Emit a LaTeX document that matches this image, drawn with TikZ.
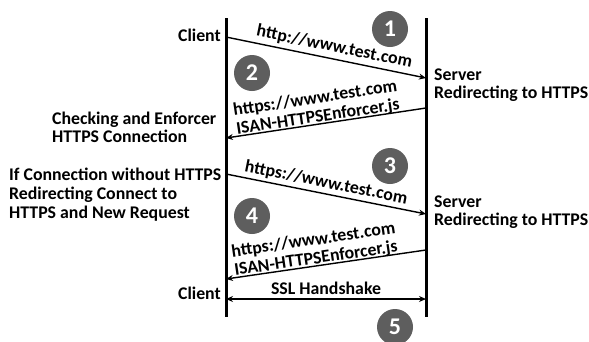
\documentclass[tikz,border=0pt]{standalone}
\usepackage{fontspec}
\setmainfont{Carlito}
\usetikzlibrary{arrows.meta}
\definecolor{stepgray}{HTML}{5E5E5E}
\begin{document}
\begin{tikzpicture}[x=1pt,y=-1pt,
  every node/.style={font=\bfseries\fontsize{17.8}{18}\selectfont},
  lifeline/.style={line width=3pt},
  msg/.style={line width=1.4pt,-{Stealth[length=7pt,width=6pt]}},
  dmsg/.style={line width=1.4pt,{Stealth[length=7pt,width=6pt]}-{Stealth[length=7pt,width=6pt]}},
  lbl/.style={inner sep=0pt,align=center,font=\bfseries\fontsize{17.8}{18.5}\selectfont},
  side/.style={inner sep=0pt,align=left,anchor=north west},
  stepnum/.style={circle,fill=stepgray,minimum size=36pt,inner sep=0pt,text=white,font=\bfseries\fontsize{24}{24}\selectfont}]
\useasboundingbox (0,0) rectangle (589,341);
% lifelines
\coordinate (ct) at (226,18);
\coordinate (cb) at (226,317);
\coordinate (st) at (426,18);
\coordinate (sb) at (426,317);
\draw[lifeline] (ct) -- (cb);
\draw[lifeline] (st) -- (sb);
% message endpoints
\coordinate (c1) at (226,37);
\coordinate (s1) at (426,78);
\coordinate (s2) at (426,108);
\coordinate (c2) at (226,138);
\coordinate (c3) at (226,174);
\coordinate (s3) at (426,214);
\coordinate (s4) at (426,250);
\coordinate (c4) at (226,279);
\coordinate (c5) at (226,299);
\coordinate (s5) at (426,299);
% messages
\draw[msg] (c1) -- (s1);
\path (c1) -- node[lbl,sloped,above=4pt,pos=0.53] (l1) {http://www.test.com} (s1);
\draw[msg] (s2) -- (c2);
\path (c2) -- node[lbl,sloped,above=-1pt,pos=0.465] (l2) {https://www.test.com\\ISAN-HTTPSEnforcer.js} (s2);
\draw[msg] (c3) -- (s3);
\path (c3) -- node[lbl,sloped,above=3pt,pos=0.49] (l3) {https://www.test.com} (s3);
\draw[msg] (s4) -- (c4);
\path (c4) -- node[lbl,sloped,above=-1pt,pos=0.455] (l4) {https://www.test.com\\ISAN-HTTPSEnforcer.js} (s4);
\draw[dmsg] (c5) -- node[lbl,above=4pt] (l5) {SSL Handshake} (s5);
% side texts
\node[inner sep=0pt,anchor=east] (client1) at (221,35) {Client};
\node[inner sep=0pt,anchor=east] (client2) at (221,293) {Client};
\node[side] (server1) at (434,69) {Server\\Redirecting to HTTPS};
\node[side] (server2) at (434,196) {Server\\Redirecting to HTTPS};
\node[side] (check) at (52,112) {Checking and Enforcer\\HTTPS Connection};
\node[side,font=\bfseries\fontsize{17.8}{19}\selectfont] (ifc) at (9,168) {If Connection without HTTPS\\Redirecting Connect to\\HTTPS and New Request};
% step numbers
\node[stepnum] (n1) at (390,29) {1};
\node[stepnum] (n2) at (252,73) {2};
\node[stepnum] (n3) at (390,166) {3};
\node[stepnum] (n4) at (252,216) {4};
\node[stepnum] (n5) at (395,327) {5};
\end{tikzpicture}
\end{document}
